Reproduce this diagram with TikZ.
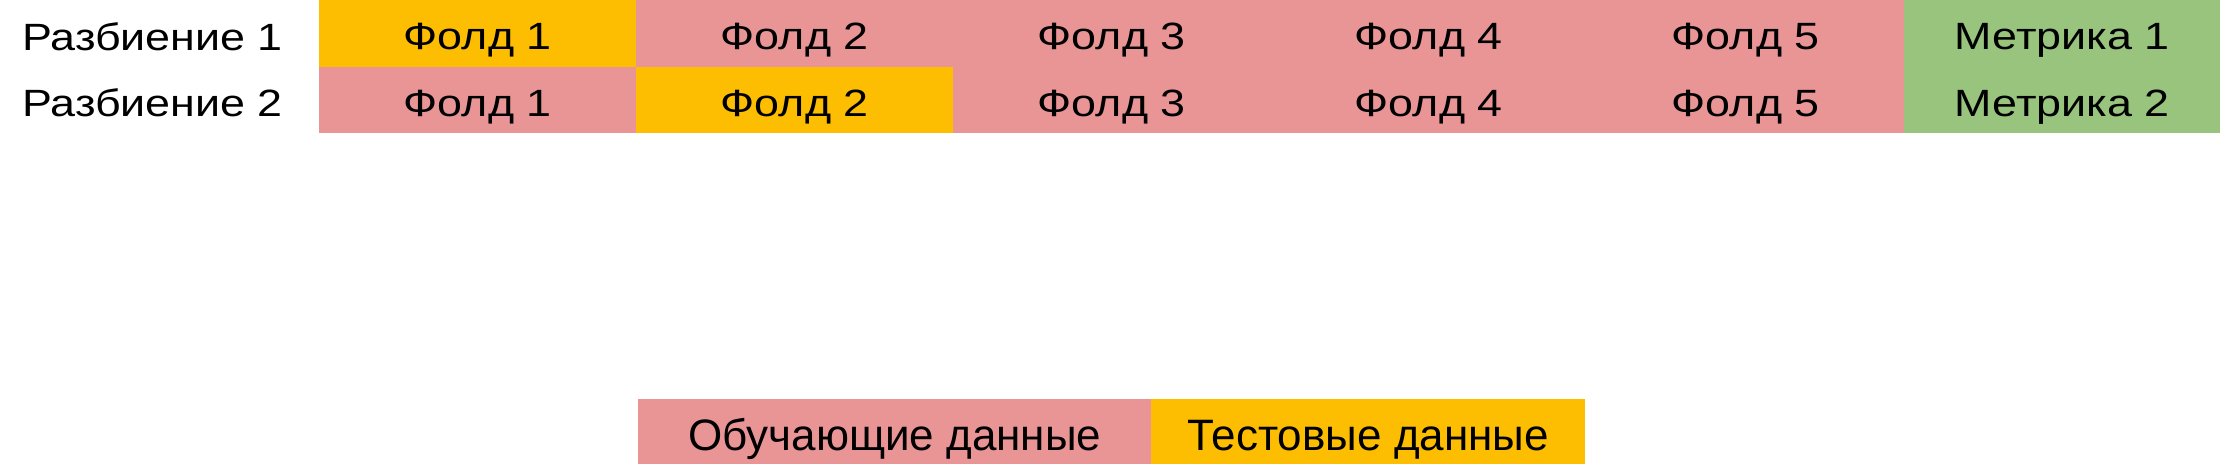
\documentclass[tikz,border=0pt]{standalone}
\usepackage{fontspec}
\usepackage{graphicx}
\setmainfont{Liberation Sans}
\definecolor{trainc}{RGB}{233,149,150}
\definecolor{testc}{RGB}{253,190,2}
\definecolor{metricc}{RGB}{152,196,125}
\newcommand{\wide}[1]{\scalebox{1.18}[1]{#1}}
\begin{document}
\begin{tikzpicture}[x=1pt,y=-1pt,
  cell/.style={rectangle,inner sep=0pt,minimum width=317pt,minimum height=66.5pt,
    text height=33pt,text depth=0pt,font=\fontsize{38}{42}\selectfont,anchor=north west},
  train/.style={cell,fill=trainc},
  test/.style={cell,fill=testc},
  metric/.style={cell,fill=metricc,minimum width=316pt},
  rowlabel/.style={inner sep=0pt,anchor=base west,font=\fontsize{38}{42}\selectfont},
  legbox/.style={rectangle,inner sep=0pt,minimum height=65pt,text height=37pt,text depth=0pt,
    font=\fontsize{44}{48}\selectfont,anchor=north west}]
\useasboundingbox (0,0) rectangle (2220,464);
\fill[white] (0,0) rectangle (2220,464);
% row 1
\node[rowlabel] (r1) at (22,50) {\wide{Разбиение 1}};
\node[test]  (a1) at (319,0) {\wide{Фолд 1}};
\node[train] (a2) at (636,0) {\wide{Фолд 2}};
\node[train] (a3) at (953,0) {\wide{Фолд 3}};
\node[train] (a4) at (1270,0) {\wide{Фолд 4}};
\node[train] (a5) at (1587,0) {\wide{Фолд 5}};
\node[metric] (am) at (1904,0) {\wide{Метрика 1}};
% row 2
\node[rowlabel] (r2) at (22,116) {\wide{Разбиение 2}};
\node[train] (b1) at (319,66.5) {\wide{Фолд 1}};
\node[test]  (b2) at (636,66.5) {\wide{Фолд 2}};
\node[train] (b3) at (953,66.5) {\wide{Фолд 3}};
\node[train] (b4) at (1270,66.5) {\wide{Фолд 4}};
\node[train] (b5) at (1587,66.5) {\wide{Фолд 5}};
\node[metric] (bm) at (1904,66.5) {\wide{Метрика 2}};
% legend
\node[legbox,fill=trainc,minimum width=513pt] (ltrain) at (638,399) {Обучающие данные};
\node[legbox,fill=testc,minimum width=434pt] (ltest) at (1151,399) {Тестовые данные};
\end{tikzpicture}
\end{document}
